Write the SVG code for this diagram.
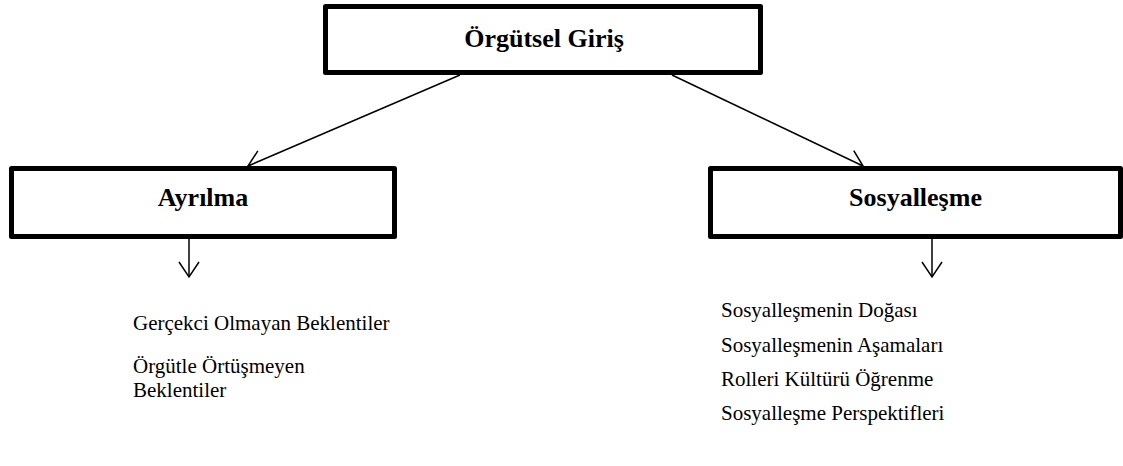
<svg xmlns="http://www.w3.org/2000/svg" width="1123" height="466" viewBox="0 0 1123 466">
  <style>
    .box { fill: #ffffff; stroke: #000000; stroke-width: 5; stroke-linejoin: round; }
    .title { font-family: "Liberation Serif", "Times New Roman", serif; font-weight: bold; font-size: 26px; fill: #000000; text-anchor: middle; }
    .item { font-family: "Liberation Serif", "Times New Roman", serif; font-size: 21px; fill: #000000; }
    .conn { stroke: #000000; stroke-width: 1.5; fill: none; }
  </style>
  <defs>
    <marker id="arrow" markerUnits="userSpaceOnUse" markerWidth="18" markerHeight="22" viewBox="0 0 18 22" refX="16" refY="11" orient="auto">
      <path d="M1,1 L16,11 L1,21" fill="none" stroke="#000000" stroke-width="1.5"/>
    </marker>
  </defs>
  <rect x="0" y="0" width="1123" height="466" fill="#ffffff"/>

  <g id="connectors">
    <line class="conn" x1="460" y1="75" x2="248" y2="166" marker-end="url(#arrow)"/>
    <line class="conn" x1="672" y1="75" x2="863" y2="166" marker-end="url(#arrow)"/>
    <line class="conn" x1="189" y1="239" x2="189" y2="277" marker-end="url(#arrow)"/>
    <line class="conn" x1="932" y1="239" x2="932" y2="277" marker-end="url(#arrow)"/>
  </g>

  <g id="node-orgutsel-giris">
    <rect class="box" x="325.5" y="6.5" width="435" height="66"/>
    <text class="title" x="544" y="47">Örgütsel Giriş</text>
  </g>

  <g id="node-ayrilma">
    <rect class="box" x="11.5" y="168.5" width="383" height="68"/>
    <text class="title" x="203" y="206">Ayrılma</text>
  </g>

  <g id="node-sosyallesme">
    <rect class="box" x="710.5" y="168.5" width="410" height="68"/>
    <text class="title" x="915.5" y="206">Sosyalleşme</text>
  </g>

  <g id="list-ayrilma">
    <text class="item" x="133" y="330">Gerçekci Olmayan Beklentiler</text>
    <text class="item" x="133" y="373">Örgütle Örtüşmeyen</text>
    <text class="item" x="133" y="397">Beklentiler</text>
  </g>

  <g id="list-sosyallesme">
    <text class="item" x="721" y="317">Sosyalleşmenin Doğası</text>
    <text class="item" x="721" y="352">Sosyalleşmenin Aşamaları</text>
    <text class="item" x="721" y="386">Rolleri Kültürü Öğrenme</text>
    <text class="item" x="721" y="420">Sosyalleşme Perspektifleri</text>
  </g>
</svg>
